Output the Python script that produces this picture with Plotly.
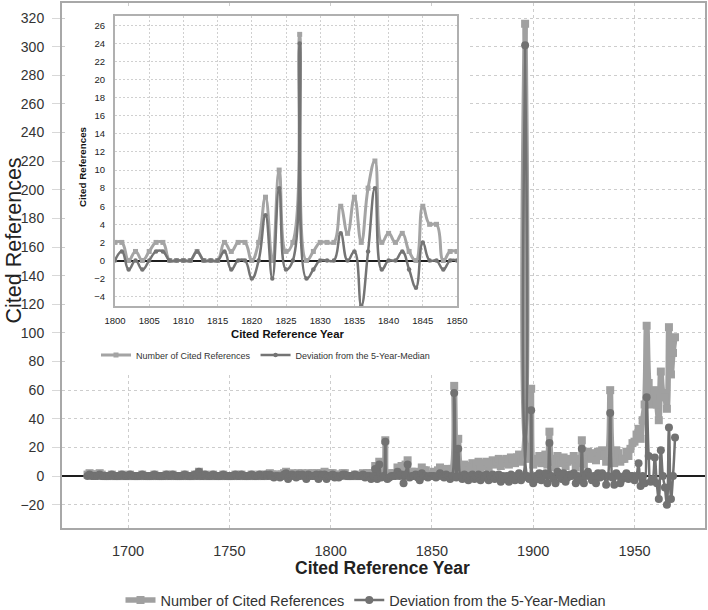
import plotly.graph_objects as go

# ---------------- data ----------------
years = list(range(1680, 1971))
inset_years = list(range(1800, 1851))

cited_1680_1799 = [
    1, 2, 1, 1, 1, 1, 2, 1, 0, 0,
    0, 0, 1, 0, 0, 0, 0, 1, 0, 0,
    0, 1, 0, 0, 0, 0, 0, 1, 0, 0,
    0, 0, 0, 1, 0, 0, 0, 0, 0, 1,
    0, 0, 1, 0, 0, 0, 0, 0, 1, 0,
    0, 0, 0, 1, 0, 3, 0, 0, 1, 0,
    0, 0, 1, 0, 0, 0, 0, 1, 0, 0,
    0, 0, 0, 1, 0, 0, 1, 0, 0, 0,
    0, 1, 0, 0, 0, 1, 0, 0, 1, 0,
    2, 1, 0, 1, 1, 0, 1, 2, 3, 0,
    1, 2, 1, 0, 2, 1, 2, 1, 0, 2,
    1, 2, 1, 2, 0, 2, 1, 3, 0, 2,
]
dev_1680_1799 = [
    0, 1, 0, 0, 0, 0, 1, 0, 0, 0,
    0, 0, 1, 0, 0, 0, 0, 1, 0, 0,
    0, 1, 0, 0, 0, 0, 0, 1, 0, 0,
    0, 0, 0, 1, 0, 0, 0, 0, 0, 1,
    0, 0, 1, 0, 0, 0, 0, 0, 1, 0,
    0, 0, 0, 1, 0, 3, 0, 0, 1, 0,
    0, 0, 1, 0, 0, 0, 0, 1, 0, 0,
    0, 0, 0, 1, 0, 0, 1, 0, 0, 0,
    0, 1, 0, 0, 0, 1, 0, 0, 1, 0,
    1, 0, -1, 0, 0, -1, 0, 1, 2, -2,
    0, 1, 0, -1, 1, 0, 1, 0, -2, 1,
    0, 0, 0, 1, -2, 1, 0, 1, -2, 0,
]

cited_1800_1850 = [
    2, 2, 0, 1, 0, 1, 2, 2, 0, 0,
    0, 0, 1, 0, 0, 0, 2, 1, 2, 2,
    0, 2, 7, 0, 10, 1, 2, 25, 0, 1,
    2, 2, 2, 6, 3, 7, 2, 8, 11, 2,
    3, 2, 3, 1, 0, 6, 4, 4, 0, 1,
    1,
]
dev_1800_1850 = [
    0, 1, -1, 0, -1, 0, 1, 1, 0, 0,
    0, 0, 1, 0, 0, 0, 1, -1, 0, 0,
    -2, 0, 5, -2, 8, -1, 0, 24, -2, -1,
    0, 0, 0, 3, 0, 1, -5, 1, 8, -1,
    0, 0, 1, -1, -3, 2, 0, 0, -1, 0,
    0,
]

cited_1851_1899 = [
    3, 2, 4, 6, 4, 3, 5, 4, 3,
    5, 63, 6, 26, 7, 5, 8, 7, 4, 7,
    9, 6, 8, 10, 5, 9, 7, 10, 6, 9,
    11, 8, 10, 12, 7, 11, 9, 12, 8, 13,
    12, 9, 13, 15, 10, 13, 316, 14, 12, 61,
]
dev_1851_1899 = [
    0, -1, 0, 2, 0, -1, 1, 0, -2,
    0, 58, -1, 19, 0, -2, 1, 0, -3, 0,
    1, -2, 0, 1, -3, 0, -1, 1, -3, 0,
    1, -2, 0, 1, -4, 0, -2, 0, -4, 1,
    0, -3, 0, 2, -3, -1, 301, 0, -2, 46,
]

cited_1900_1944 = [
    8, 12, 10, 14, 9, 12, 15, 8, 31, 12,
    10, 6, 14, 11, 9, 13, 7, 10, 12, 11,
    14, 6, 12, 9, 25, 8, 13, 17, 15, 12,
    16, 11, 17, 14, 18, 15, 10, 16, 60, 15,
    9, 18, 16, 10, 12,
]
dev_1900_1944 = [
    -5, 0, -2, 2, -3, 0, 2, -5, 23, 0,
    -2, -5, 3, 0, -2, 2, -4, -1, 1, 0,
    2, -5, 0, -3, 19, -5, 0, 3, 0, -3,
    0, -5, 2, -1, 2, 0, -6, 0, 44, -1,
    -6, 2, 0, -5, -2,
]

cited_1945_1970 = [
    12, 17, 14, 19, 23, 24, 29, 33, 26, 39,
    50, 105, 65, 50, 55, 60, 50, 39, 73, 58,
    55, 47, 104, 71, 86, 97,
]
dev_1945_1970 = [
    0, 2, -2, 0, 0, -3, 0, 9, -7, 0,
    -5, 55, 14, -4, -2, 13, -5, -16, 18, 0,
    -8, -20, 34, -16, 0, 27,
]

cited = cited_1680_1799 + cited_1800_1850 + cited_1851_1899 + cited_1900_1944 + cited_1945_1970
deviation = dev_1680_1799 + dev_1800_1850 + dev_1851_1899 + dev_1900_1944 + dev_1945_1970

NAME_CITED = "Number of Cited References"
NAME_DEV = "Deviation from the 5-Year-Median"

# ---------------- style ----------------
LIGHT = "#a0a0a0"
DARK = "#727272"
GRID = "#cdcdcd"
FONT = "Liberation Sans"
W, H = 708, 610
L, R, T, B = 62, 3, 3, 82
PW, PH = W - L - R, H - T - B


def px_x(px):
    return (px - L) / PW


def px_y(py):
    return (H - B - py) / PH


fig = go.Figure()

# main chart
fig.add_trace(go.Scatter(
    x=years, y=cited, name=NAME_CITED, mode="lines+markers",
    line=dict(color=LIGHT, width=5.5, shape="spline", smoothing=1.3),
    marker=dict(symbol="square", size=8, color=LIGHT),
    legend="legend", hoverinfo="skip"))
fig.add_trace(go.Scatter(
    x=years, y=deviation, name=NAME_DEV, mode="lines+markers",
    line=dict(color=DARK, width=2.5, shape="spline", smoothing=1.3),
    marker=dict(symbol="circle", size=8, color=DARK),
    legend="legend", hoverinfo="skip"))

# blank panel behind the inset
fig.add_trace(go.Scatter(
    x=[0], y=[0], xaxis="x2", yaxis="y2", mode="markers",
    marker=dict(opacity=0), showlegend=False, hoverinfo="skip"))

# inset chart
fig.add_trace(go.Scatter(
    x=inset_years, y=cited_1800_1850, name=NAME_CITED, mode="lines+markers",
    xaxis="x3", yaxis="y3",
    line=dict(color="#a4a4a4", width=3, shape="spline", smoothing=1.3),
    marker=dict(symbol="square", size=5, color="#a4a4a4"),
    legend="legend2", hoverinfo="skip"))
fig.add_trace(go.Scatter(
    x=inset_years, y=dev_1800_1850, name=NAME_DEV, mode="lines+markers",
    xaxis="x3", yaxis="y3",
    line=dict(color="#747474", width=2.5, shape="spline", smoothing=1.3),
    marker=dict(symbol="circle", size=4.5, color="#747474"),
    legend="legend2", hoverinfo="skip"))

fig.update_layout(
    width=W, height=H, autosize=False,
    margin=dict(l=L, r=R, t=T, b=B, autoexpand=False),
    paper_bgcolor="white", plot_bgcolor="white",
    font=dict(family=FONT, color="#333333", size=14.5),
    xaxis=dict(
        domain=[0, 1], range=[1667.4, 1984.8], tick0=1700, dtick=50,
        showgrid=True, gridcolor=GRID, griddash="3px,3px", gridwidth=1,
        zeroline=False, showline=True, linecolor="#a8a8a8", linewidth=2, mirror=True,
        ticks="", tickfont=dict(size=14.5, color="#333333"), ticklabelstandoff=9,
        automargin=False,
    ),
    yaxis=dict(
        domain=[0, 1], range=[-36.3, 330.5], tick0=0, dtick=20,
        showgrid=True, gridcolor=GRID, griddash="3px,3px", gridwidth=1,
        zeroline=True, zerolinecolor="#1e1e1e", zerolinewidth=2,
        showline=True, linecolor="#a8a8a8", linewidth=2, mirror=True,
        ticks="outside", ticklen=8, tickcolor="#d8d8d8",
        tickfont=dict(size=14, color="#333333"), ticklabelstandoff=5,
        automargin=False,
    ),
    xaxis2=dict(domain=[px_x(68), px_x(468)], anchor="y2", visible=False,
                range=[0, 1], showgrid=False, zeroline=False),
    yaxis2=dict(domain=[px_y(375), px_y(6)], anchor="x2", visible=False,
                range=[0, 1], showgrid=False, zeroline=False),
    xaxis3=dict(
        domain=[px_x(115), px_x(457)], anchor="y3", range=[1800, 1850],
        tick0=1800, dtick=5,
        showgrid=True, gridcolor="#d0d0d0", griddash="2px,2px", gridwidth=1,
        zeroline=False, showline=True, linecolor="#b0b0b0", linewidth=2, mirror=True,
        ticks="", tickfont=dict(size=9.5, color="#222222"), ticklabelstandoff=5,
        automargin=False,
    ),
    yaxis3=dict(
        domain=[px_y(306), px_y(16)], anchor="x3", range=[-5.03, 27.03],
        tick0=0, dtick=2,
        showgrid=True, gridcolor="#d0d0d0", griddash="2px,2px", gridwidth=1,
        zeroline=True, zerolinecolor="#1e1e1e", zerolinewidth=2,
        showline=True, linecolor="#b0b0b0", linewidth=2, mirror=True,
        ticks="", tickfont=dict(size=9.5, color="#222222"), ticklabelstandoff=6,
        automargin=False,
    ),
    legend=dict(
        orientation="h", x=px_x(366), xanchor="center", y=px_y(600), yanchor="middle",
        font=dict(size=14.5, color="#333333"), itemwidth=30,
        bgcolor="rgba(0,0,0,0)", tracegroupgap=0,
    ),
    legend2=dict(
        orientation="h", x=px_x(96), xanchor="left", y=px_y(355), yanchor="middle",
        font=dict(size=9, color="#333333"), itemwidth=30,
        bgcolor="rgba(0,0,0,0)",
    ),
    annotations=[
        dict(text="<b>Cited Reference Year</b>", xref="paper", yref="paper",
             x=px_x(382), y=px_y(568), xanchor="center", yanchor="middle",
             showarrow=False, font=dict(size=17.5, color="#222222")),
        dict(text="Cited References", xref="paper", yref="paper",
             x=px_x(13.5), y=px_y(241), xanchor="center", yanchor="middle",
             textangle=-90, showarrow=False, font=dict(size=21.5, color="#222222")),
        dict(text="<b>Cited Reference Year</b>", xref="paper", yref="paper",
             x=px_x(287), y=px_y(334), xanchor="center", yanchor="middle",
             showarrow=False, font=dict(size=11.3, color="#111111")),
        dict(text="<b>Cited References</b>", xref="paper", yref="paper",
             x=px_x(82), y=px_y(167), xanchor="center", yanchor="middle",
             textangle=-90, showarrow=False, font=dict(size=9.8, color="#111111")),
    ],
)

fig.write_html(
    "out.html",
    config={"displayModeBar": False},
    post_script="document.body.style.margin='0';document.body.style.padding='0';"
                "document.documentElement.style.overflow='hidden';",
)
